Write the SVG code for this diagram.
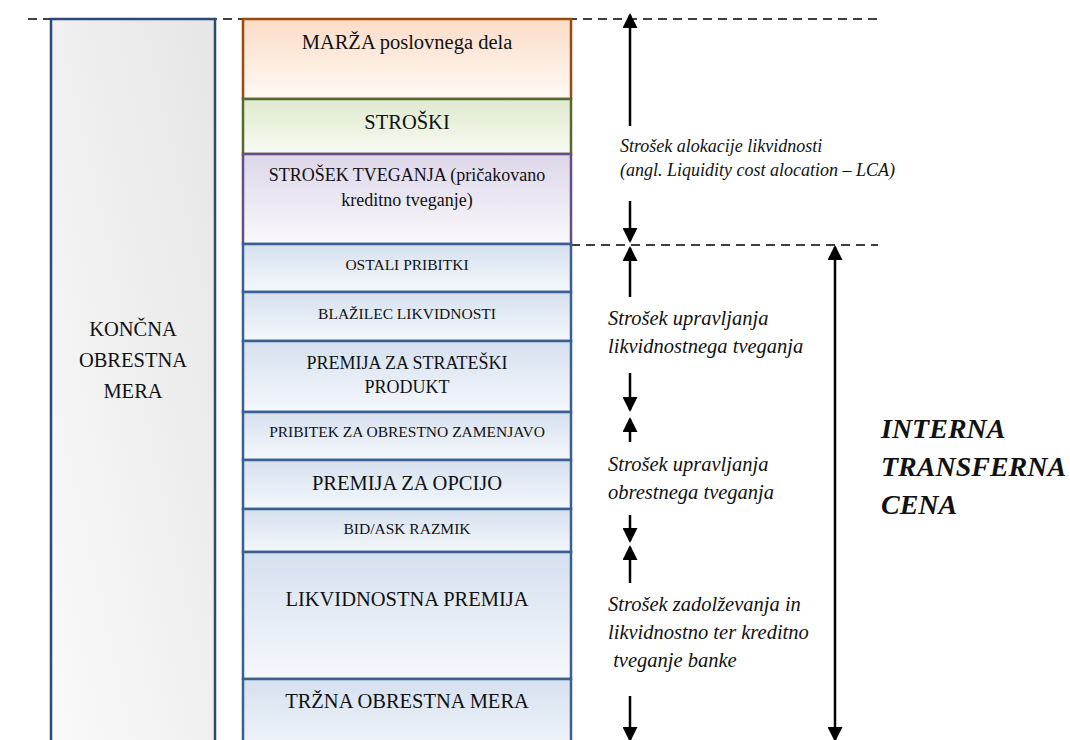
<svg xmlns="http://www.w3.org/2000/svg" width="1070" height="740" viewBox="0 0 1070 740">
  <style>
    text { font-family: "Liberation Serif", "Times New Roman", serif; fill: #111; }
    .c { text-anchor: middle; }
    .big { font-size: 20.5px; }
    .mid { font-size: 18px; }
    .sm { font-size: 15.5px; }
    .it { font-style: italic; font-size: 20.5px; }
    .it18 { font-style: italic; font-size: 18px; }
    .bi { font-style: italic; font-weight: bold; font-size: 28px; }
    .blue { fill: url(#gBlue); stroke: #3a5f93; stroke-width: 2.5; }
    .dash { stroke: #000; stroke-width: 1.6; stroke-dasharray: 9 6; fill: none; }
    .arr { stroke: #000; stroke-width: 2.5; fill: none; marker-end: url(#head); }
  </style>
  <defs>
    <linearGradient id="gLeft" x1="1" y1="0" x2="0" y2="1">
      <stop offset="0" stop-color="#e6e6e6"/>
      <stop offset="1" stop-color="#fafafa"/>
    </linearGradient>
    <linearGradient id="gOrange" x1="0" y1="0" x2="0" y2="1">
      <stop offset="0" stop-color="#fbdcc6"/>
      <stop offset="1" stop-color="#fffaf6"/>
    </linearGradient>
    <linearGradient id="gGreen" x1="0" y1="0" x2="0" y2="1">
      <stop offset="0" stop-color="#dfeacd"/>
      <stop offset="1" stop-color="#f8fbf3"/>
    </linearGradient>
    <linearGradient id="gPurple" x1="0" y1="0" x2="0" y2="1">
      <stop offset="0" stop-color="#ddd6e9"/>
      <stop offset="1" stop-color="#faf9fc"/>
    </linearGradient>
    <linearGradient id="gBlue" x1="0" y1="0" x2="0" y2="1">
      <stop offset="0" stop-color="#d5e0ef"/>
      <stop offset="1" stop-color="#f5f8fc"/>
    </linearGradient>
    <marker id="head" viewBox="0 0 15 15" refX="13" refY="7.5" markerWidth="15" markerHeight="15" markerUnits="userSpaceOnUse" orient="auto-start-reverse">
      <path d="M0,0 L15,7.5 L0,15 z" fill="#000"/>
    </marker>
  </defs>

  <!-- dashed reference levels -->
  <g id="levels">
    <line class="dash" x1="28" y1="19" x2="878" y2="19"/>
    <line class="dash" x1="571" y1="245" x2="878" y2="245"/>
  </g>

  <!-- final interest rate column -->
  <g id="koncna">
    <rect x="51" y="19" width="164" height="740" fill="url(#gLeft)" stroke="#2b4a78" stroke-width="2.5"/>
    <text class="big c" x="133" y="336">KONČNA</text>
    <text class="big c" x="133" y="367">OBRESTNA</text>
    <text class="big c" x="133" y="398">MERA</text>
  </g>

  <!-- stacked components -->
  <g id="marza">
    <rect x="243" y="19" width="328" height="80" fill="url(#gOrange)" stroke="#9c4a0c" stroke-width="2.5"/>
    <text class="big c" x="407" y="49">MARŽA poslovnega dela</text>
  </g>
  <g id="stroski">
    <rect x="243" y="99" width="328" height="55" fill="url(#gGreen)" stroke="#55692e" stroke-width="2.5"/>
    <text class="big c" x="407" y="129">STROŠKI</text>
  </g>
  <g id="strosek-tveganja">
    <rect x="243" y="154" width="328" height="90" fill="url(#gPurple)" stroke="#644e84" stroke-width="2.5"/>
    <text class="mid c" x="407" y="181">STROŠEK TVEGANJA (pričakovano</text>
    <text class="mid c" x="407" y="206">kreditno tveganje)</text>
  </g>
  <g id="ostali">
    <rect class="blue" x="243" y="244" width="328" height="48"/>
    <text class="sm c" x="407" y="270">OSTALI PRIBITKI</text>
  </g>
  <g id="blazilec">
    <rect class="blue" x="243" y="292" width="328" height="49"/>
    <text class="sm c" x="407" y="319">BLAŽILEC LIKVIDNOSTI</text>
  </g>
  <g id="strateski">
    <rect class="blue" x="243" y="341" width="328" height="71"/>
    <text class="mid c" x="407" y="369">PREMIJA ZA STRATEŠKI</text>
    <text class="mid c" x="407" y="393">PRODUKT</text>
  </g>
  <g id="zamenjava">
    <rect class="blue" x="243" y="412" width="328" height="48"/>
    <text class="sm c" x="407" y="437">PRIBITEK ZA OBRESTNO ZAMENJAVO</text>
  </g>
  <g id="opcija">
    <rect class="blue" x="243" y="460" width="328" height="49"/>
    <text class="big c" x="407" y="490">PREMIJA ZA OPCIJO</text>
  </g>
  <g id="bidask">
    <rect class="blue" x="243" y="509" width="328" height="43"/>
    <text class="sm c" x="407" y="534">BID/ASK RAZMIK</text>
  </g>
  <g id="likvidnostna">
    <rect class="blue" x="243" y="552" width="328" height="127"/>
    <text class="big c" x="407" y="606">LIKVIDNOSTNA PREMIJA</text>
  </g>
  <g id="trzna">
    <rect class="blue" x="243" y="679" width="328" height="80"/>
    <text class="big c" x="407" y="708">TRŽNA OBRESTNA MERA</text>
  </g>

  <!-- span arrows -->
  <g id="connectors">
    <line class="arr" x1="630" y1="126" x2="630" y2="15"/>
    <line class="arr" x1="630" y1="201" x2="630" y2="241"/>
    <line class="arr" x1="630" y1="297" x2="630" y2="248"/>
    <line class="arr" x1="630" y1="373" x2="630" y2="410"/>
    <line class="arr" x1="630" y1="442" x2="630" y2="419"/>
    <line class="arr" x1="630" y1="515" x2="630" y2="541"/>
    <line class="arr" x1="630" y1="583" x2="630" y2="547"/>
    <line class="arr" x1="630" y1="696" x2="630" y2="740"/>
    <line class="arr" x1="835" y1="247" x2="835" y2="740" marker-start="url(#head)"/>
  </g>

  <!-- span labels -->
  <g id="labels">
    <text class="it18" x="620" y="152">Strošek alokacije likvidnosti</text>
    <text class="it18" x="620" y="176">(angl. Liquidity cost alocation – LCA)</text>
    <text class="it" x="608" y="325">Strošek upravljanja</text>
    <text class="it" x="608" y="353">likvidnostnega tveganja</text>
    <text class="it" x="608" y="471">Strošek upravljanja</text>
    <text class="it" x="608" y="499">obrestnega tveganja</text>
    <text class="it" x="608" y="611">Strošek zadolževanja in</text>
    <text class="it" x="608" y="639">likvidnostno ter kreditno</text>
    <text class="it" x="608" y="667" xml:space="preserve"> tveganje banke</text>
    <text class="bi" x="881" y="438">INTERNA</text>
    <text class="bi" x="881" y="476">TRANSFERNA</text>
    <text class="bi" x="881" y="514">CENA</text>
  </g>
</svg>
